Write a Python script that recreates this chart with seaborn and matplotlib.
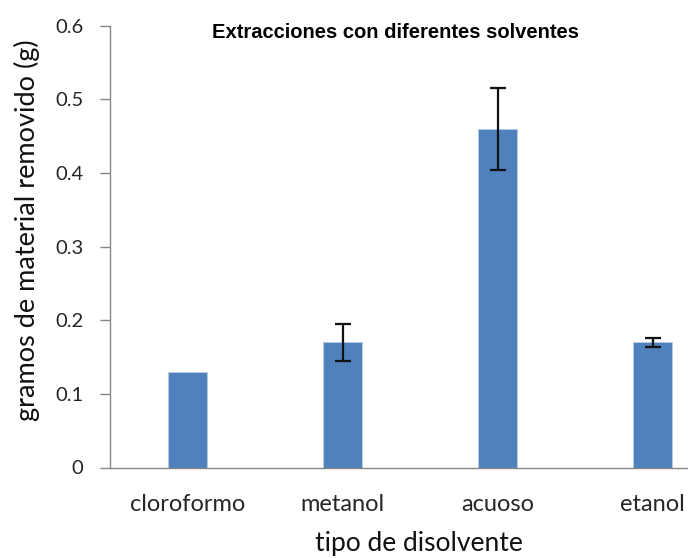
import numpy as np
import pandas as pd
import seaborn as sns
import matplotlib
matplotlib.use("Agg")
import matplotlib.pyplot as plt

# data
solventes = ["cloroformo", "metanol", "acuoso", "etanol"]
gramos = [0.13, 0.17, 0.46, 0.17]
error = [np.nan, 0.025, 0.056, 0.006]

df = pd.DataFrame({"solvente": solventes, "gramos": gramos})

sns.set_theme(style="white")
plt.rcParams["font.family"] = ["Lato", "DejaVu Sans"]

fig = plt.figure(figsize=(6.88, 5.58), dpi=100)
ax = fig.add_axes([110 / 688, 90.5 / 558, 620 / 688, 441.8 / 558])

sns.barplot(data=df, x="solvente", y="gramos", color="#4F81BD", saturation=1,
            width=0.25, edgecolor="#b9cde5", linewidth=0.6, ax=ax)

pos = np.arange(len(solventes))
ok = ~np.isnan(error)
ax.errorbar(pos[ok], np.array(gramos)[ok], yerr=np.array(error)[ok], fmt="none",
            ecolor="#111111", elinewidth=1.6, capsize=6, capthick=1.6, zorder=5)

ax.set_xlim(-0.5, 3.5)
ax.set_ylim(0, 0.6)
ax.set_yticks(np.arange(0, 0.61, 0.1))
ax.set_yticklabels(["0", "0.1", "0.2", "0.3", "0.4", "0.5", "0.6"])

for s in ["top", "right"]:
    ax.spines[s].set_visible(False)
for s in ["left", "bottom"]:
    ax.spines[s].set_color("#868686")
    ax.spines[s].set_linewidth(1.0)

ax.tick_params(axis="y", direction="out", length=7.2, width=1.0, color="#868686",
               labelsize=14.5, labelcolor="#262626", pad=12, left=True)
ax.tick_params(axis="x", length=0, labelsize=17, labelcolor="#262626", pad=19)

ax.set_xlabel("tipo de disolvente", fontsize=19, color="#111111")
ax.set_ylabel("gramos de material removido (g)", fontsize=19.5, color="#111111")
ax.xaxis.set_label_coords(0.498, -0.171)
ax.yaxis.set_label_coords(-0.134, 0.5376)
ax.xaxis.label.set_va("center")
ax.yaxis.label.set_va("center")

fig.text(395 / 688, 1 - 33 / 558, "Extracciones con diferentes solventes",
         family="Liberation Sans", fontweight="bold", fontsize=14.5,
         ha="center", va="center", color="#000000")

fig.savefig("out.png", dpi=100)
